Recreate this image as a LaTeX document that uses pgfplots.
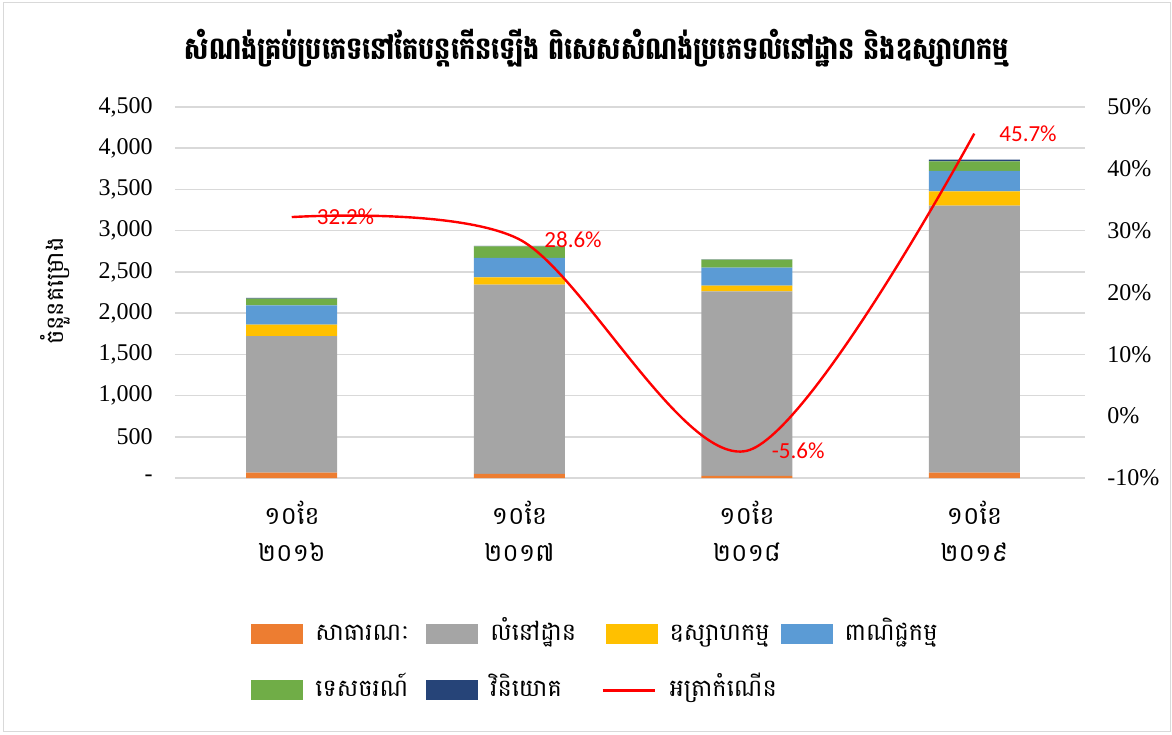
\documentclass[border=0pt]{standalone}
\usepackage{fontspec}
\setmainfont{Liberation Serif}
\newfontfamily\khmer[Script=Khmer]{Battambang}
\newfontfamily\calfont{Carlito}
\usepackage{pgfplots}
\pgfplotsset{compat=1.18}

\definecolor{cPub}{HTML}{ED7D31}
\definecolor{cRes}{HTML}{A5A5A5}
\definecolor{cInd}{HTML}{FFC000}
\definecolor{cCom}{HTML}{5B9BD5}
\definecolor{cTou}{HTML}{70AD47}
\definecolor{cInv}{HTML}{264478}
\definecolor{cGrid}{HTML}{D9D9D9}

\pgfplotsset{
  base/.style={
    at={(0pt,0pt)}, anchor=south west,
    scale only axis, width=455pt, height=185.5pt,
    xmin=-0.5, xmax=3.5, clip=false,
    tick style={draw=none},
    axis line style={draw=none},
  },
  barleg/.style={legend image code/.code={\fill[##1,draw=none] (0pt,-5pt) rectangle (26pt,5pt);}},
}

\begin{document}
\begin{tikzpicture}
\useasboundingbox (-87.5pt,-128pt) rectangle (498.5pt,239pt);
\draw[cGrid] (-86pt,-126.5pt) rectangle (497.5pt,238pt);

\begin{axis}[base,
  ybar stacked, bar width=45.5pt,
  ymin=0, ymax=4500,
  axis x line*=bottom, axis y line*=left,
  ymajorgrids, major grid style={cGrid, line width=0.8pt},
  ytick={0,500,...,4500},
  yticklabels={-\hspace{12pt},500,{1,000},{1,500},{2,000},{2,500},{3,000},{3,500},{4,000},{4,500}},
  yticklabel style={anchor=east, inner xsep=0pt, xshift=-11pt, font=\fontsize{12}{14}\selectfont},
  xtick={0,1,2,3},
  xticklabels={{១០ខែ\\២០១៦},{១០ខែ\\២០១៧},{១០ខែ\\២០១៨},{១០ខែ\\២០១៩}},
  xticklabel style={align=center, font=\khmer\fontsize{12.5}{18.5}\selectfont, yshift=-8pt, xshift=1.5pt},
  ylabel={\khmer ចំនួនគម្រោង},
  ylabel style={at={(axis description cs:-0.132,0.504)}, rotate=0, anchor=center, font=\fontsize{12}{14}\selectfont},
  legend columns=4,
  legend style={at={(0.0835,-0.388)}, anchor=north west, draw=none, inner sep=0pt,
    /tikz/column sep=0pt, /tikz/row sep=16pt,
    nodes={font=\khmer\fontsize{12}{14}\selectfont, anchor=west, text width=49.5pt,
      inner xsep=6pt, inner ysep=0pt, text height=9pt, text depth=3pt}},
  legend cell align=left,
]
\addplot[barleg, fill=cPub, draw=none, xshift=1.5pt] coordinates {(0,65) (1,49) (2,25) (3,65)};
\addlegendentry{សាធារណៈ}
\addplot[barleg, fill=cRes, draw=none, xshift=1.5pt] coordinates {(0,1657) (1,2297) (2,2240) (3,3239)};
\addlegendentry{លំនៅដ្ឋាន}
\addplot[barleg, fill=cInd, draw=none, xshift=1.5pt] coordinates {(0,139) (1,89) (2,68) (3,174)};
\addlegendentry{ឧស្សាហកម្ម}
\addplot[barleg, fill=cCom, draw=none, xshift=1.5pt] coordinates {(0,234) (1,234) (2,218) (3,247)};
\addlegendentry{ពាណិជ្ជកម្ម}
\addplot[barleg, fill=cTou, draw=none, xshift=1.5pt] coordinates {(0,81) (1,140) (2,98) (3,117)};
\addlegendentry{ទេសចរណ៍}
\addplot[barleg, fill=cInv, draw=none, xshift=1.5pt] coordinates {(0,8) (1,8) (2,3) (3,20)};
\addlegendentry{វិនិយោគ}
\addlegendimage{legend image code/.code={\draw[red, line width=1.2pt] (0pt,0pt) -- (26pt,0pt); \path (0pt,-5pt) (26pt,5pt);}}
\addlegendentry{អត្រាកំណើន}

\node[font=\khmer\bfseries\fontsize{15.5}{18}\selectfont] at (axis description cs:0.4637,1.159)
  {\scalebox{0.82}[1]{សំណង់គ្រប់ប្រភេទនៅតែបន្តកើនឡើង ពិសេសសំណង់ប្រភេទលំនៅដ្ឋាន និងឧស្សាហកម្ម}};
\end{axis}

\begin{axis}[base,
  ymin=-10, ymax=50,
  hide x axis, axis y line*=right,
  ytick={-10,0,...,50},
  yticklabels={-10\%,0\%,10\%,20\%,30\%,40\%,50\%},
  yticklabel style={anchor=west, inner xsep=0pt, xshift=11pt, font=\fontsize{12}{14}\selectfont},
]
\addplot[red, line width=1.2pt, smooth, mark=none, xshift=1.5pt,
  point meta=explicit symbolic, nodes near coords,
  every node near coord/.style={anchor=west, inner sep=0pt, xshift=12pt, red, font=\calfont\fontsize{11.5}{14}\selectfont}]
  coordinates {(0,32.2) [32.2\%] (1,28.6) [28.6\%] (2,-5.6) [-5.6\%] (3,45.7) [45.7\%]};
\end{axis}
\end{tikzpicture}
\end{document}
